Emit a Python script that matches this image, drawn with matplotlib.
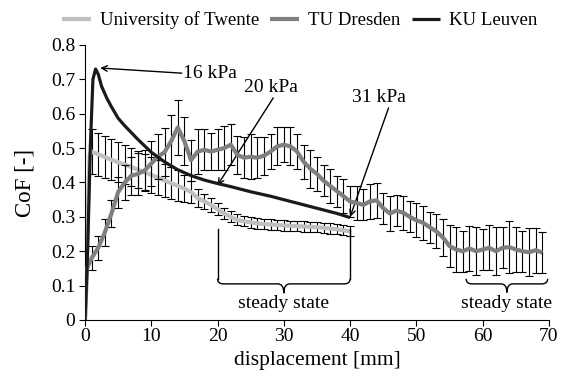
import numpy as np
import matplotlib
matplotlib.use("Agg")
import matplotlib.pyplot as plt
from matplotlib.path import Path
from matplotlib.patches import PathPatch

plt.rcParams['font.family'] = ['Liberation Serif', 'DejaVu Serif']

# ---------------- data ----------------
series_names = ["University of Twente", "TU Dresden", "KU Leuven"]

ku_x = [0, 0.4, 0.8, 1.2, 1.6, 2.0, 2.5, 3.3, 4, 5, 6, 7, 8, 10, 12, 14, 16, 18, 20,
        22, 25, 28, 30, 32, 35, 38, 40]
ku_y = [0, 0.2, 0.5, 0.7, 0.73, 0.715, 0.68, 0.645, 0.62, 0.587, 0.565, 0.545, 0.525,
        0.488, 0.46, 0.437, 0.42, 0.407, 0.397, 0.388, 0.373, 0.36, 0.35, 0.34, 0.325,
        0.31, 0.298]

tw_x = [0, 0.35, 0.7, 1, 2, 3, 4, 5, 6, 7, 8, 9, 10, 11, 12, 13, 14, 15, 16, 17, 18, 19,
        20, 21, 22, 23, 24, 25, 26, 27, 28, 29, 30, 31, 32, 33, 34, 35, 36, 37, 38, 39, 40]
tw_y = [0, 0.25, 0.48, 0.49, 0.482, 0.474, 0.466, 0.459, 0.452, 0.445, 0.437, 0.43,
        0.422, 0.414, 0.406, 0.398, 0.39, 0.382, 0.372, 0.355, 0.345, 0.335, 0.322,
        0.31, 0.3, 0.291, 0.287, 0.284, 0.281, 0.279, 0.278, 0.276, 0.275, 0.274,
        0.273, 0.272, 0.271, 0.27, 0.268, 0.266, 0.264, 0.261, 0.258]
tw_err = [0, 0, 0, 0.065, 0.063, 0.061, 0.06, 0.058, 0.056, 0.055, 0.054, 0.053, 0.052,
          0.05, 0.049, 0.047, 0.045, 0.04, 0.033, 0.027, 0.022, 0.02, 0.017, 0.016,
          0.016, 0.016, 0.015, 0.015, 0.015, 0.015, 0.015, 0.015, 0.015, 0.015, 0.015,
          0.015, 0.015, 0.015, 0.015, 0.015, 0.015, 0.015, 0.015]

dr_x = [0, 0.3] + list(range(1, 70))
dr_y = [0, 0.15, 0.18, 0.21, 0.255, 0.31, 0.372, 0.40, 0.42, 0.425, 0.435, 0.455, 0.475,
        0.488, 0.52, 0.56, 0.52, 0.465, 0.49, 0.495, 0.49, 0.495, 0.5, 0.51, 0.48, 0.472,
        0.475, 0.472, 0.478, 0.49, 0.505, 0.51, 0.505, 0.49, 0.46, 0.44, 0.425, 0.405,
        0.39, 0.375, 0.36, 0.345, 0.34, 0.335, 0.345, 0.348, 0.325, 0.31, 0.318, 0.312,
        0.3, 0.29, 0.283, 0.27, 0.258, 0.24, 0.215, 0.205, 0.2, 0.208, 0.2, 0.205, 0.21,
        0.2, 0.21, 0.212, 0.205, 0.2, 0.197, 0.203, 0.196]
dr_err = [0, 0, 0.035, 0.035, 0.04, 0.04, 0.045, 0.05, 0.055, 0.06, 0.06, 0.065, 0.065,
          0.07, 0.075, 0.08, 0.07, 0.06, 0.065, 0.06, 0.055, 0.06, 0.065, 0.06, 0.055,
          0.06, 0.065, 0.06, 0.055, 0.05, 0.055, 0.05, 0.055, 0.05, 0.05, 0.055, 0.05,
          0.045, 0.05, 0.045, 0.05, 0.045, 0.05, 0.045, 0.05, 0.05, 0.045, 0.05, 0.045,
          0.05, 0.045, 0.05, 0.05, 0.045, 0.05, 0.055, 0.06, 0.065, 0.06, 0.065, 0.07,
          0.06, 0.065, 0.07, 0.06, 0.075, 0.065, 0.06, 0.07, 0.065, 0.06]

x_ticks = [0, 10, 20, 30, 40, 50, 60, 70]
y_ticks = [0, 0.1, 0.2, 0.3, 0.4, 0.5, 0.6, 0.7, 0.8]

colors = ["#bfbfbf", "#7f7f7f", "#1a1a1a"]

FS = 14

# ---------------- figure ----------------
fig = plt.figure(figsize=(5.68, 3.79), dpi=100)
ax = fig.add_axes([0.1496, 0.1557, 0.8169, 0.7256])

def draw_err(x, y, e, z):
    x = np.asarray(x, float); y = np.asarray(y, float); e = np.asarray(e, float)
    m = e > 0
    ax.errorbar(x[m], y[m], yerr=e[m], fmt='none', ecolor='black', elinewidth=0.8,
                capsize=3, capthick=0.8, zorder=z)

draw_err(tw_x, tw_y, tw_err, 1)
l1, = ax.plot(tw_x, tw_y, color=colors[0], lw=3.0, zorder=2, solid_capstyle='butt')
draw_err(dr_x, dr_y, dr_err, 3)
l2, = ax.plot(dr_x, dr_y, color=colors[1], lw=3.0, zorder=4, solid_capstyle='butt')
l3, = ax.plot(ku_x, ku_y, color=colors[2], lw=2.3, zorder=5, solid_capstyle='butt')

ax.set_xlim(0, 70)
ax.set_ylim(0, 0.8)
ax.set_xticks(x_ticks)
ax.set_yticks(y_ticks)
ax.set_yticklabels(["0"] + [f"{v:.1f}" for v in y_ticks[1:]])
for s in ["top", "right"]:
    ax.spines[s].set_visible(False)
ax.tick_params(direction='out', length=4, width=0.8, labelsize=FS)
ax.tick_params(axis='y', pad=3)
ax.tick_params(axis='x', pad=2)
ax.set_xlabel("displacement [mm]", fontsize=15.5, labelpad=4)
ax.set_ylabel("CoF [-]", fontsize=16.5, labelpad=11)

leg = fig.legend([l1, l2, l3], series_names, loc='upper center',
                 bbox_to_anchor=(0.528, 1.015), ncol=3, frameon=False, fontsize=13.5,
                 handlelength=1.5, columnspacing=0.6, handletextpad=0.5)

# annotations
arrow = dict(arrowstyle='->', color='black', lw=1.0, shrinkA=0, shrinkB=0)
ax.annotate("", xy=(2.3, 0.733), xytext=(14.6, 0.718), arrowprops=arrow)
ax.text(14.8, 0.718, "16 kPa", ha='left', va='center', fontsize=FS)
ax.annotate("", xy=(20, 0.392), xytext=(28.4, 0.646), arrowprops=arrow)
ax.text(28.0, 0.675, "20 kPa", ha='center', va='center', fontsize=FS)
ax.annotate("", xy=(40, 0.30), xytext=(45.8, 0.617), arrowprops=arrow)
ax.text(44.3, 0.647, "31 kPa", ha='center', va='center', fontsize=FS)

def brace(x0, x1, ystart, yh, ytip, dx):
    xm = (x0 + x1) / 2
    verts = [(x0, ystart), (x0, yh), (x0 + dx, yh), (xm - dx, yh), (xm, yh), (xm, ytip),
             (xm, yh), (xm + dx, yh), (x1 - dx, yh), (x1, yh), (x1, ystart)]
    codes = [Path.MOVETO, Path.CURVE3, Path.CURVE3, Path.LINETO, Path.CURVE3, Path.CURVE3,
             Path.CURVE3, Path.CURVE3, Path.LINETO, Path.CURVE3, Path.CURVE3]
    ax.add_patch(PathPatch(Path(verts, codes), fill=False, lw=1.0, color='black'))

ax.plot([20, 20], [0.265, 0.12], color='black', lw=1.0)
ax.plot([40, 40], [0.265, 0.12], color='black', lw=1.0)
brace(20, 40, 0.12, 0.105, 0.078, 0.9)
ax.text(30, 0.048, "steady state", ha='center', va='center', fontsize=FS)
brace(57.5, 69.8, 0.12, 0.105, 0.08, 0.9)
ax.text(63.6, 0.048, "steady state", ha='center', va='center', fontsize=FS)

fig.savefig("out.png", dpi=100)
